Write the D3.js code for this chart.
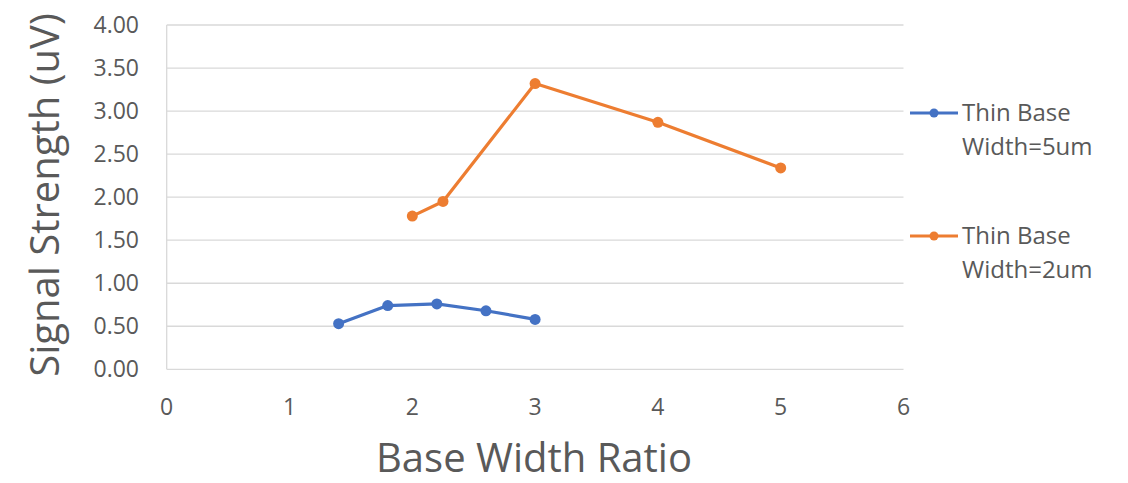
<!DOCTYPE html>
<html>
<head>
<meta charset="utf-8">
<script src="https://cdn.jsdelivr.net/npm/d3@7"></script>
<style>
  body { margin: 0; background: #fff; }
  text { font-family: "Open Sans", sans-serif; fill: #595959; }
</style>
</head>
<body>
<svg id="chart" width="1128" height="483"></svg>
<script>
// series data
const thin5X = [1.4, 1.8, 2.2, 2.6, 3.0];
const thin5Y = [0.53, 0.74, 0.76, 0.68, 0.58];
const thin2X = [2.0, 2.25, 3.0, 4.0, 5.0];
const thin2Y = [1.78, 1.95, 3.32, 2.87, 2.34];
const seriesNames = [["Thin Base", "Width=5um"], ["Thin Base", "Width=2um"]];
const seriesColors = ["#4472C4", "#ED7D31"];
const xTicks = [0, 1, 2, 3, 4, 5, 6];
const yTicks = [0, 0.5, 1, 1.5, 2, 2.5, 3, 3.5, 4];

const svg = d3.select('#chart');
const plotL = 166.7, plotR = 903.5, plotT = 25, plotB = 369.3;

const x = d3.scaleLinear().domain([0, 6]).range([plotL, plotR]);
const y = d3.scaleLinear().domain([0, 4]).range([plotB, plotT]);

// gridlines
svg.selectAll('.grid')
  .data(yTicks)
  .enter()
  .append('line')
    .attr('x1', plotL).attr('x2', plotR)
    .attr('y1', d => y(d)).attr('y2', d => y(d))
    .attr('stroke', '#d9d9d9').attr('stroke-width', 1.3);

svg.append('line')
  .attr('x1', plotL).attr('x2', plotL)
  .attr('y1', plotT).attr('y2', plotB)
  .attr('stroke', '#d9d9d9').attr('stroke-width', 1.3);

// y tick labels
svg.selectAll('.ylab')
  .data(yTicks)
  .enter()
  .append('text')
    .attr('x', 139)
    .attr('y', d => y(d))
    .attr('dy', '0.35em')
    .attr('text-anchor', 'end')
    .style('font-size', '23px')
    .text(d => d.toFixed(2));

// x tick labels
svg.selectAll('.xlab')
  .data(xTicks)
  .enter()
  .append('text')
    .attr('x', d => x(d))
    .attr('y', 407)
    .attr('dy', '0.35em')
    .attr('text-anchor', 'middle')
    .style('font-size', '23px')
    .text(d => d);

// axis titles
svg.append('text')
  .attr('x', 534).attr('y', 472)
  .attr('text-anchor', 'middle')
  .style('font-size', '40px')
  .text('Base Width Ratio');

svg.append('text')
  .attr('transform', 'translate(59,195) rotate(-90)')
  .attr('text-anchor', 'middle')
  .style('font-size', '40px')
  .text('Signal Strength (uV)');

// series
const series = [
  thin5X.map((d, i) => ({x: d, y: thin5Y[i]})),
  thin2X.map((d, i) => ({x: d, y: thin2Y[i]}))
];
const line = d3.line().x(d => x(d.x)).y(d => y(d.y));

series.forEach((pts, s) => {
  svg.append('path')
    .datum(pts)
    .attr('d', line)
    .attr('fill', 'none')
    .attr('stroke', seriesColors[s])
    .attr('stroke-width', 3.2)
    .attr('stroke-linejoin', 'round');
  svg.selectAll('.pt' + s)
    .data(pts)
    .enter()
    .append('circle')
      .attr('cx', d => x(d.x))
      .attr('cy', d => y(d.y))
      .attr('r', 5.5)
      .attr('fill', seriesColors[s]);
});

// legend
const legendY = [113, 236];
seriesNames.forEach((name, s) => {
  const g = svg.append('g').attr('transform', `translate(910,${legendY[s]})`);
  g.append('line')
    .attr('x1', 0).attr('x2', 48)
    .attr('stroke', seriesColors[s]).attr('stroke-width', 3.2);
  g.append('circle').attr('cx', 24).attr('r', 4.5).attr('fill', seriesColors[s]);
  g.selectAll('text')
    .data(name)
    .enter()
    .append('text')
      .attr('x', 52)
      .attr('y', (d, i) => i * 34)
      .attr('dy', '0.35em')
      .style('font-size', '24px')
      .text(d => d);
});
</script>
</body>
</html>
